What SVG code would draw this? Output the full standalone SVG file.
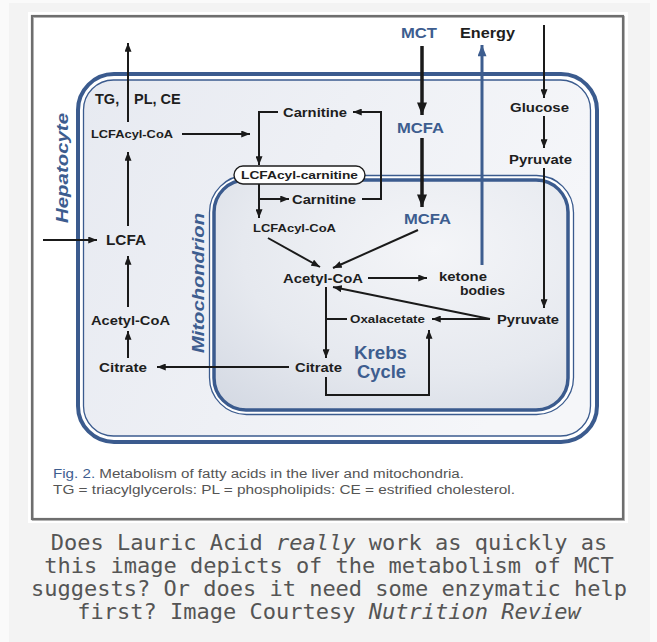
<svg xmlns="http://www.w3.org/2000/svg" width="657" height="642" viewBox="0 0 657 642">
<style>
.t{font-family:"Liberation Sans",Arial,sans-serif;font-weight:bold;fill:#1e1e1e}
.b{font-family:"Liberation Sans",Arial,sans-serif;font-weight:bold;fill:#3d5d8f}
.bi{font-family:"Liberation Sans",Arial,sans-serif;font-weight:bold;font-style:italic;fill:#3d5d8f}
.cap{font-family:"Liberation Sans",Arial,sans-serif;font-size:12.5px;fill:#555}
.mono{font-family:"DejaVu Sans Mono",monospace;font-size:22px;fill:#555;text-anchor:middle}
.ln{fill:none;stroke:#1a1a1a;stroke-width:2}
.thick{fill:none;stroke:#1a1a1a;stroke-width:3.5}
.blu{fill:none;stroke:#3d5d8f;stroke-width:3}
</style>
<defs>
<marker id="a" viewBox="0 0 10 8" refX="10" refY="4" markerWidth="9" markerHeight="7" markerUnits="userSpaceOnUse" orient="auto"><path d="M0,0 L10,4 L0,8 z" fill="#1a1a1a"/></marker>
<marker id="ab" viewBox="0 0 10 8" refX="10" refY="4" markerWidth="15" markerHeight="10" markerUnits="userSpaceOnUse" orient="auto"><path d="M0,0 L10,4 L0,8 z" fill="#1a1a1a"/></marker>
<marker id="au" viewBox="0 0 10 8" refX="10" refY="4" markerWidth="13" markerHeight="9" markerUnits="userSpaceOnUse" orient="auto"><path d="M0,0 L10,4 L0,8 z" fill="#3d5d8f"/></marker>
<linearGradient id="hg" x1="0" y1="0" x2="1" y2="0.3"><stop offset="0" stop-color="#e7eaf1"/><stop offset="1" stop-color="#f5f6f9"/></linearGradient>
<radialGradient id="mg" cx="0.62" cy="0.3" r="0.9"><stop offset="0" stop-color="#f4f5f8"/><stop offset="0.6" stop-color="#e6e9ef"/><stop offset="1" stop-color="#d4d9e3"/></radialGradient>
</defs>
<rect width="657" height="642" fill="#fafafa"/>
<rect x="9" y="3" width="641" height="639" fill="#f3f3f3"/>
<rect x="28" y="12" width="600" height="511" fill="#ffffff"/>
<rect x="33" y="17" width="591" height="503" fill="none" stroke="#bbbbbb" stroke-width="2"/>
<rect x="32" y="16" width="591" height="503" fill="none" stroke="#6e6e6e" stroke-width="2.2"/>

<g id="hepatocyte">
<rect x="78" y="74" width="519" height="368" rx="36" fill="#ffffff" stroke="#3b5b8e" stroke-width="4"/>
<rect x="83.5" y="80" width="507" height="356" rx="30" fill="url(#hg)" stroke="#3b5b8e" stroke-width="1.3"/>
<text class="bi" font-size="17" transform="translate(68,168) rotate(-90)" text-anchor="middle" textLength="110" lengthAdjust="spacingAndGlyphs">Hepatocyte</text>
</g>
<g id="mitochondrion">
<rect x="209.5" y="175.5" width="364" height="239" rx="37" fill="#ffffff" stroke="#3b5b8e" stroke-width="1.3"/>
<rect x="214" y="180" width="354" height="230" rx="32" fill="url(#mg)" stroke="#3b5b8e" stroke-width="3.5"/>
<text class="bi" font-size="16" transform="translate(204,283) rotate(-90)" text-anchor="middle" textLength="140" lengthAdjust="spacingAndGlyphs">Mitochondrion</text>
</g>

<g id="connectors">
<path class="ln" d="M128,122 V43" stroke-width="2.5" marker-end="url(#a)"/>
<path class="ln" d="M182,134 H250" marker-end="url(#a)"/>
<path class="ln" d="M128,226 V152" marker-end="url(#a)"/>
<path class="ln" d="M43,240 H97" stroke-width="2.5" marker-end="url(#a)"/>
<path class="ln" d="M128,307 V256" marker-end="url(#a)"/>
<path class="ln" d="M128,358 V331" marker-end="url(#a)"/>
<path class="ln" d="M289,367 H157" marker-end="url(#a)"/>
<path class="ln" d="M278,112 H259 V165" marker-end="url(#a)"/>
<path class="ln" d="M362,199 H381 V112 H353" marker-end="url(#a)"/>
<path class="ln" d="M259,184 V218" marker-end="url(#a)"/>
<path class="ln" d="M259,199 H289" marker-end="url(#a)"/>
<path class="ln" d="M268,238 L320,267" marker-end="url(#a)"/>
<path class="ln" d="M418,230 L333,268" marker-end="url(#a)"/>
<path class="ln" d="M368,278 H427" marker-end="url(#a)"/>
<path class="ln" d="M490,319 L333,287" marker-end="url(#a)"/>
<path class="ln" d="M490,319 H432" marker-end="url(#a)"/>
<path class="ln" d="M326,287 V358" marker-end="url(#a)"/>
<path class="ln" d="M326,319 H347"/>
<path class="ln" d="M326,377 V395 H429 V330" marker-end="url(#a)"/>
<path class="thick" d="M422,46 V115" marker-end="url(#ab)"/>
<path class="thick" d="M422,138 V207" marker-end="url(#ab)"/>
<path class="blu" d="M482,265 V45" marker-end="url(#au)"/>
<path class="ln" d="M544,25 V98" marker-end="url(#a)"/>
<path class="ln" d="M544,116 V148" marker-end="url(#a)"/>
<path class="ln" d="M544,168 V308" marker-end="url(#a)"/>
</g>

<g id="n-tgplce"><text class="t" font-size="14.5" x="95" y="103.5">TG, <tspan x="134">PL, CE</tspan></text></g>
<g id="n-lcfacylcoa-out"><text class="t" font-size="11" x="91" y="138" textLength="82" lengthAdjust="spacingAndGlyphs">LCFAcyl-CoA</text></g>
<g id="n-lcfa"><text class="t" font-size="15" x="106" y="245" textLength="40" lengthAdjust="spacingAndGlyphs">LCFA</text></g>
<g id="n-acetyl-out"><text class="t" font-size="12.5" x="91" y="324.5" textLength="79" lengthAdjust="spacingAndGlyphs">Acetyl-CoA</text></g>
<g id="n-citrate-out"><text class="t" font-size="12" x="99" y="371.5" textLength="48" lengthAdjust="spacingAndGlyphs">Citrate</text></g>
<g id="n-carnitine-top"><text class="t" font-size="12" x="283" y="116.5" textLength="64" lengthAdjust="spacingAndGlyphs">Carnitine</text></g>
<g id="n-lcfacylcarnitine">
<rect x="234" y="166" width="131" height="18" rx="9" fill="#ffffff" stroke="#1e1e1e" stroke-width="1.4"/>
<text class="t" font-size="11" x="241" y="179" textLength="117" lengthAdjust="spacingAndGlyphs">LCFAcyl-carnitine</text>
</g>
<g id="n-carnitine-low"><text class="t" font-size="12" x="292" y="203.5" textLength="64" lengthAdjust="spacingAndGlyphs">Carnitine</text></g>
<g id="n-lcfacylcoa-in"><text class="t" font-size="11" x="253" y="232" textLength="83" lengthAdjust="spacingAndGlyphs">LCFAcyl-CoA</text></g>
<g id="n-acetyl-in"><text class="t" font-size="12" x="283" y="282.5" textLength="80" lengthAdjust="spacingAndGlyphs">Acetyl-CoA</text></g>
<g id="n-ketone"><text class="t" font-size="12" x="439" y="281" textLength="48" lengthAdjust="spacingAndGlyphs">ketone</text><text class="t" font-size="12" x="460" y="294.5" textLength="45" lengthAdjust="spacingAndGlyphs">bodies</text></g>
<g id="n-oxalacetate"><text class="t" font-size="11" x="350" y="323" textLength="75" lengthAdjust="spacingAndGlyphs">Oxalacetate</text></g>
<g id="n-pyruvate-in"><text class="t" font-size="12" x="497" y="323.5" textLength="62" lengthAdjust="spacingAndGlyphs">Pyruvate</text></g>
<g id="n-citrate-in"><text class="t" font-size="12" x="295" y="371.5" textLength="47" lengthAdjust="spacingAndGlyphs">Citrate</text></g>
<g id="n-krebs"><text class="b" font-size="18" x="354" y="359" textLength="53" lengthAdjust="spacingAndGlyphs">Krebs</text><text class="b" font-size="18" x="357" y="378" textLength="49" lengthAdjust="spacingAndGlyphs">Cycle</text></g>
<g id="n-mct"><text class="b" font-size="14" x="401" y="38" textLength="36" lengthAdjust="spacingAndGlyphs">MCT</text></g>
<g id="n-energy"><text class="t" font-size="14" x="460" y="38" textLength="55" lengthAdjust="spacingAndGlyphs">Energy</text></g>
<g id="n-mcfa-1"><text class="b" font-size="15" x="397" y="133" textLength="47" lengthAdjust="spacingAndGlyphs">MCFA</text></g>
<g id="n-mcfa-2"><text class="b" font-size="15" x="404" y="224" textLength="47" lengthAdjust="spacingAndGlyphs">MCFA</text></g>
<g id="n-glucose"><text class="t" font-size="12" x="510" y="111.5" textLength="59" lengthAdjust="spacingAndGlyphs">Glucose</text></g>
<g id="n-pyruvate-out"><text class="t" font-size="12" x="509" y="163.5" textLength="63" lengthAdjust="spacingAndGlyphs">Pyruvate</text></g>

<g id="figcaption">
<text class="cap" x="53" y="477.5" textLength="411" lengthAdjust="spacingAndGlyphs"><tspan fill="#3d5d8f">Fig. 2.</tspan> Metabolism of fatty acids in the liver and mitochondria.</text>
<text class="cap" x="53" y="493.5" textLength="462" lengthAdjust="spacingAndGlyphs">TG = triacylglycerols: PL = phospholipids: CE = estrified cholesterol.</text>
</g>
<g id="caption">
<text class="mono" x="329" y="550">Does Lauric Acid <tspan font-style="italic">really</tspan> work as quickly as</text>
<text class="mono" x="329" y="573">this image depicts of the metabolism of MCT</text>
<text class="mono" x="329" y="596">suggests? Or does it need some enzymatic help</text>
<text class="mono" x="329" y="619">first? Image Courtesy <tspan font-style="italic">Nutrition Review</tspan></text>
</g>
</svg>
